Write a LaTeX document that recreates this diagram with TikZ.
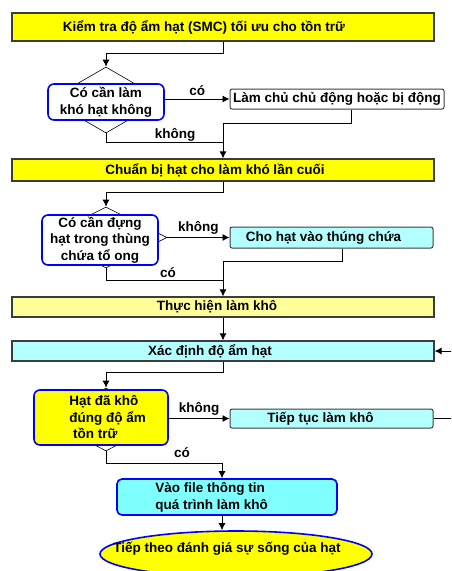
\documentclass[tikz,border=0pt]{standalone}
\usepackage{fontspec}
\setmainfont{Liberation Sans}
\usetikzlibrary{arrows.meta}
\usetikzlibrary{positioning}
\usetikzlibrary{shapes.geometric}
\definecolor{fc-yellow}{HTML}{FFFF00}
\definecolor{fc-pale}{HTML}{FFFF99}
\definecolor{fc-cyan}{HTML}{B3FFFF}
\definecolor{fc-aqua}{HTML}{80FFFF}
\definecolor{fc-edge}{HTML}{3C3C3C}
\definecolor{fc-blue}{HTML}{0000FF}

\begin{document}
\begin{tikzpicture}[
    x=1pt, y=-1pt,
    >={Latex[length=7pt, width=7pt]},
    every node/.style={font=\bfseries\fontsize{13.5}{16.5}\selectfont, inner sep=0pt},
    bar/.style={draw=fc-edge, line width=1.2pt, align=center},
    side/.style={draw=fc-edge, line width=1pt, rounded corners=2pt, align=center},
    tip/.style={diamond, draw=black, line width=0.6pt, fill=white},
    ask/.style={draw=fc-blue, line width=1.6pt, rounded corners=6pt, fill=white, align=center},
    conn/.style={->, draw=black, line width=0.9pt},
    label/.style={anchor=base}
]

\useasboundingbox (0,0) rectangle (451,571);
\clip (0,0) rectangle (451,571);

% =========================================================================
% KIEM TRA DO AM
% =========================================================================
\node[bar, fill=fc-yellow, minimum width=422, minimum height=28] (kiemtra) at (223,27)
    {Kiểm tra độ ẩm hạt (SMC) tối ưu cho tồn trữ\hspace*{38pt}};

\node[tip, minimum width=114, minimum height=66] (hoi1) at (106,100) {};
\node[ask, minimum width=116, minimum height=36] (hoi1box) at (106,102)
    {Có cần làm\\khó hạt không};
\node[side, fill=white, minimum width=214, minimum height=20] (lamchu) at (337,99)
    {Làm chủ chủ động hoặc bị động};

\draw[conn] (kiemtra.south) -- ++(0,12) -| (hoi1.north);
\draw[conn] (hoi1box.east |- lamchu.west) -- node[label, above=3pt] {có} (lamchu.west);

% =========================================================================
% CHUAN BI HAT
% =========================================================================
\node[bar, fill=fc-yellow, minimum width=422, minimum height=22] (chuanbi) at (223,170)
    {Chuẩn bị hạt cho làm khó lần cuối\hspace*{16pt}};

\draw[conn] ([xshift=14pt]lamchu.south) -- ++(0,14) -| (chuanbi.north);
\draw (hoi1.south) |- ([yshift=16pt]chuanbi.north);
\node[label] (khong1) at (175,138) {không};

\node[tip, minimum width=122, minimum height=61] (hoi2) at (106,237.5) {};
\node[ask, minimum width=116, minimum height=50] (hoi2box) at (100,240)
    {Có cần đựng\\hạt trong thùng\\chứa tổ ong};
\node[side, fill=fc-cyan, minimum width=203, minimum height=21] (chohat) at (331.5,237.5)
    {Cho hạt vào thúng chứa\hspace*{16pt}};

\draw[conn] (chuanbi.south) -- ++(0,11) -| (hoi2.north);
\draw[conn] (hoi2.east) -- node[label, above=3pt] {không} (chohat.west);

% =========================================================================
% THUC HIEN LAM KHO
% =========================================================================
\node[bar, fill=fc-pale, minimum width=422, minimum height=20] (thuchien) at (223,307)
    {Thực hiện làm khô\hspace*{12pt}};
\node[bar, fill=fc-cyan, minimum width=422, minimum height=20] (xacdinh) at (223,351)
    {Xác định độ ẩm hạt\hspace*{26pt}};

\draw[conn] ([xshift=10.5pt]chohat.south) -- ++(0,13) -| (thuchien.north);
\draw (hoi2.south) |- ([yshift=16pt]thuchien.north);
\node[label] (co2) at (168,277) {có};
\draw[conn] (thuchien.south) -- (xacdinh.north);

% =========================================================================
% KIEM TRA DA KHO
% =========================================================================
\node[tip, minimum width=120, minimum height=63] (hoi3) at (106,419.5) {};
\node[ask, fill=fc-yellow, minimum width=134, minimum height=55] (hoi3box) at (101,417.5) {};
\node[align=left, anchor=west] (hoi3text) at ([xshift=36pt]hoi3box.west)
    {Hạt đã khô\\đúng độ ẩm\\\ tồn trữ};
\node[side, fill=fc-cyan, minimum width=203, minimum height=19] (tieptuc) at (331.5,418.5)
    {Tiếp tục làm khô\hspace*{22pt}};

\draw[conn] (xacdinh.south) -- ++(0,11) -| (hoi3.north);
\draw[conn] (hoi3box.east |- tieptuc.west) -- node[label, above=3pt] {không} (tieptuc.west);
\draw[conn] (tieptuc.east) -- ++(30,0) |- (xacdinh.east);

% =========================================================================
% KET THUC
% =========================================================================
\node[ask, fill=fc-aqua, minimum width=220, minimum height=36, rounded corners=5pt] (vaofile) at (227,497) {};
\node[align=left, anchor=west, font=\bfseries\fontsize{13.5}{17}\selectfont] (vaofiletext)
    at ([xshift=39pt]vaofile.west) {Vào file thông tin\\quá trình làm khô};
\node[ellipse, draw=fc-blue, line width=1.6pt, fill=fc-yellow,
      minimum width=272, minimum height=46] (tieptheo) at (236,554) {};
\node (tieptheotext) at (227,549) {Tiếp theo đánh giá sự sống của hạt};

\draw[conn] (hoi3.south) -- ++(0,12) -| ([xshift=-5pt]vaofile.north);
\node[label] (co3) at (182,457) {có};
\draw[conn] ([xshift=-5pt]vaofile.south) -- ([xshift=-5pt]vaofile.south |- tieptheo.north);

\end{tikzpicture}
\end{document}
